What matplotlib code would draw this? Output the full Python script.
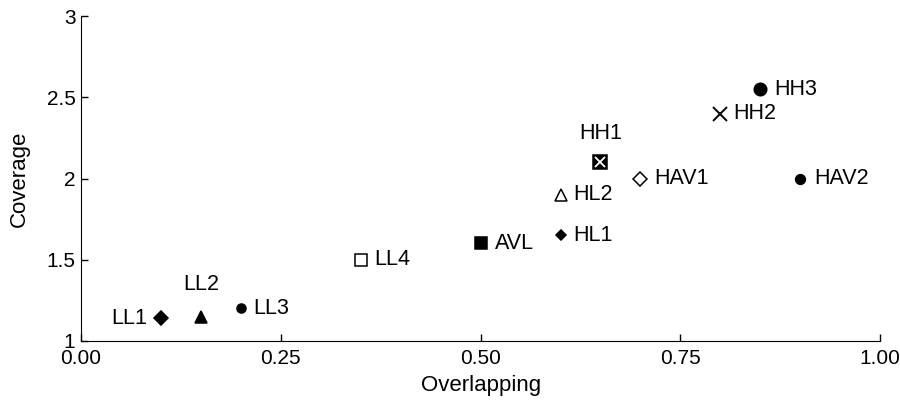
import matplotlib
matplotlib.use("Agg")
import matplotlib.pyplot as plt

plt.rcParams['font.family'] = ['Liberation Sans', 'DejaVu Sans']

names = ["LL1", "LL2", "LL3", "LL4", "AVL", "HL1", "HL2", "HH1", "HAV1", "HH2", "HH3", "HAV2"]
overlapping = [0.10, 0.15, 0.20, 0.35, 0.50, 0.60, 0.60, 0.65, 0.70, 0.80, 0.85, 0.90]
coverage = [1.14, 1.15, 1.20, 1.50, 1.60, 1.65, 1.90, 2.10, 2.00, 2.40, 2.55, 2.00]

markers = ["D", "^", "o", "s", "s", "D", "^", "s", "D", "x", "o", "o"]
sizes = [7, 9, 6.5, 8, 8.5, 5.5, 8.5, 10, 7.5, 9.5, 9, 7]
filled = [True, True, True, False, True, True, False, True, False, True, True, True]
# label placement: (dx, dy, ha)
placement = [(-10, 0, "right"), (0, 23, "center"), (9, 0, "left"), (10, 0, "left"),
             (10, 0, "left"), (9, 0, "left"), (9, 0, "left"), (0, 21, "center"),
             (10, 0, "left"), (9, 0, "left"), (10, 0, "left"), (10, 0, "left")]

FS = 15.5

fig = plt.figure(figsize=(9, 4.03), dpi=100)
ax = fig.add_axes([0.09, 0.154, 0.888, 0.806])

for i, n in enumerate(names):
    x, y = overlapping[i], coverage[i]
    m = markers[i]
    if m == "x":
        ax.plot(x, y, marker="x", ms=sizes[i], mew=1.4, color="black", ls="none")
    else:
        ax.plot(x, y, marker=m, ms=sizes[i], mfc="black" if filled[i] else "white",
                mec="black", mew=1.1, ls="none")
    if n == "HH1":
        ax.plot(x, y, marker="x", ms=sizes[i] * 0.75, mew=1.3, color="white", ls="none")
    dx, dy, ha = placement[i]
    ax.annotate(n, (x, y), xytext=(dx, dy), textcoords="offset points",
                ha=ha, va="center", fontsize=FS)

ax.set_xlim(0, 1.0)
ax.set_ylim(1, 3)
ax.set_xticks([0, 0.25, 0.5, 0.75, 1.0])
ax.set_xticklabels(["0.00", "0.25", "0.50", "0.75", "1.00"])
ax.set_yticks([1, 1.5, 2, 2.5, 3])
ax.set_yticklabels(["1", "1.5", "2", "2.5", "3"])
ax.tick_params(direction="in", length=5, width=1, labelsize=15)
ax.tick_params(axis="x", pad=6)
ax.tick_params(axis="y", pad=4)
ax.spines["top"].set_visible(False)
ax.spines["right"].set_visible(False)
ax.set_xlabel("Overlapping", fontsize=16, labelpad=5)
ax.set_ylabel("Coverage", fontsize=16, labelpad=12)

fig.savefig("out.png", dpi=100)
